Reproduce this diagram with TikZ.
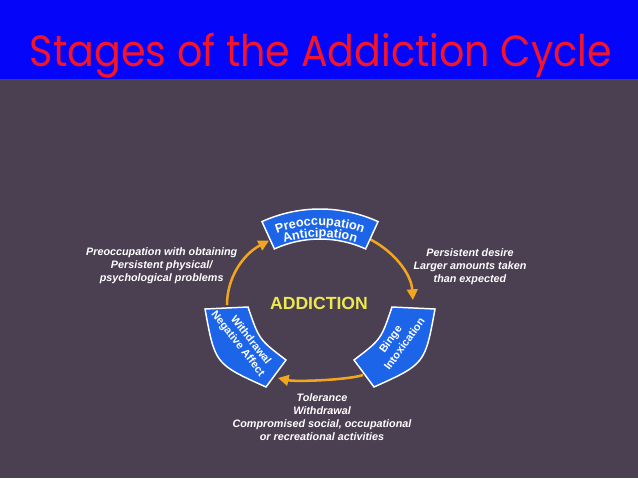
\documentclass[tikz,border=0pt]{standalone}
\usepackage{fontspec}
\setmainfont{Liberation Sans}
\newfontfamily\titlefont{Poppins}
\usetikzlibrary{arrows.meta,decorations.text,calc}
\definecolor{bgc}{RGB}{75,63,82}
\definecolor{bandblue}{RGB}{5,5,250}
\definecolor{titlered}{RGB}{245,20,40}
\definecolor{boxblue}{RGB}{28,100,232}
\definecolor{cycorange}{RGB}{242,166,32}
\definecolor{addyellow}{RGB}{238,232,80}
\newcommand\topboxfont{\fontsize{9.5pt}{11pt}\selectfont\bfseries}
\begin{document}
\begin{tikzpicture}[x=0.75pt,y=-0.75pt,
  stagebox/.style={fill=boxblue, draw=white, line width=1.1pt, line join=miter},
  sidetext/.style={text=white, font=\fontsize{8.1pt}{9.6pt}\selectfont\bfseries\itshape, align=center, inner sep=0pt},
  boxtext/.style={text=white, font=\fontsize{8.2pt}{9pt}\selectfont\bfseries, inner sep=0pt},
  cyc/.style={draw=cycorange, line width=1.9pt, -{Triangle[length=8pt,width=8pt]}},
]
\useasboundingbox (0,0) rectangle (638,478);
\fill[bgc] (0,0) rectangle (638,478);
\fill[bandblue] (0,0) rectangle (638,79);
\node[anchor=base, inner sep=0pt, text=titlered] (title) at (321,66.7)
  {\resizebox{436.5pt}{25pt}{\titlefont Stages of the Addiction Cycle}};

% cycle arrows
\coordinate (la) at (227,305);
\coordinate (lb) at (269,240.5);
\draw[cyc] (la) .. controls (227,278) and (242.6,254.7) .. (lb);
\coordinate (ra) at (366.5,237.5);
\coordinate (rb) at (412.9,300);
\draw[cyc] (ra) .. controls (393.8,250.3) and (411.3,274) .. (rb);
\coordinate (ba) at (363,375);
\coordinate (bb) at (278,378);
\draw[cyc] (ba) .. controls (348,380) and (296,382) .. (bb);

% top box
\coordinate (tc) at (320,349);
\draw[stagebox] ($(tc)+(-114.5:140)$) arc[start angle=-114.5,end angle=-65.5,radius=140]
  -- ($(tc)+(-65.5:110)$) arc[start angle=-65.5,end angle=-114.5,radius=110] -- cycle;
\path[decorate, decoration={text along path, text align=center, text color=white,
  text={|\topboxfont|Preoccupation}}]
  ($(tc)+(-116:123.5)$) arc[start angle=-116,end angle=-64,radius=123.5];
\path[decorate, decoration={text along path, text align=center, text color=white,
  text={|\topboxfont|Anticipation}}]
  ($(tc)+(-116:112)$) arc[start angle=-116,end angle=-64,radius=112];

% left box
\draw[stagebox] (205,309) .. controls (215,364) .. (266,387) -- (286,360)
  .. controls (259,339.5) .. (248,307) -- cycle;
\node[boxtext, rotate=-52] (wd) at (251.3,339.7) {Withdrawal};
\node[boxtext, rotate=-52] (na) at (237.7,343.8) {Negative Affect};

% right box
\draw[stagebox] (435,309) .. controls (425,364) .. (374,387) -- (354,360)
  .. controls (381,339.5) .. (392,307) -- cycle;
\node[boxtext, rotate=54] (bg) at (391.2,339.7) {Binge};
\node[boxtext, rotate=54] (ix) at (404.2,343.8) {Intoxication};

\node[text=addyellow, font=\fontsize{13.2pt}{15pt}\selectfont\bfseries, inner sep=0pt] (addiction) at (319,303.5) {ADDICTION};

\node[sidetext] (lt) at (161.7,266) {Preoccupation with obtaining\\Persistent physical/\\psychological problems};
\node[sidetext] (rt) at (470,266.5) {Persistent desire\\Larger amounts taken\\than expected};
\node[sidetext] (bt) at (322,417) {Tolerance\\Withdrawal\\Compromised social, occupational\\or recreational activities};
\end{tikzpicture}
\end{document}
